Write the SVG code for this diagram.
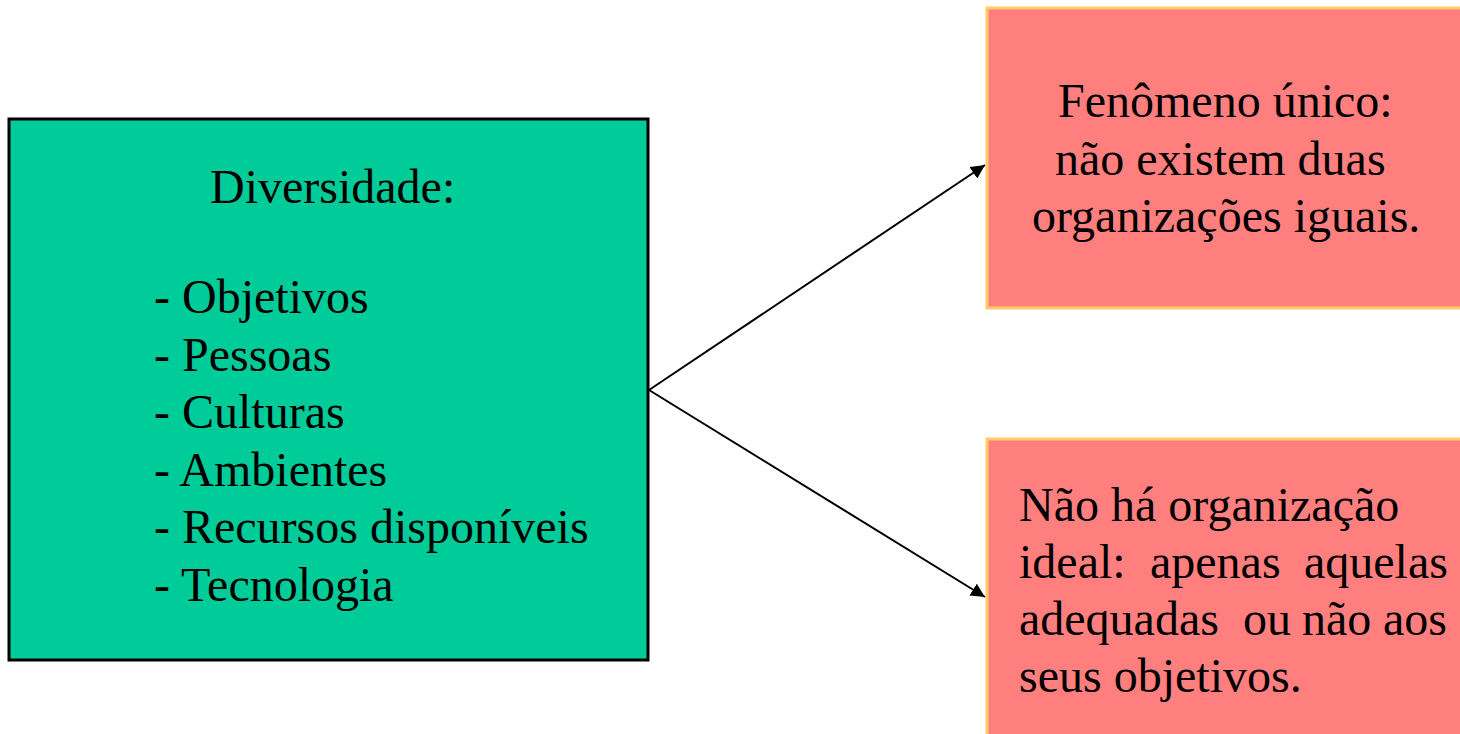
<svg xmlns="http://www.w3.org/2000/svg" width="1460" height="734" viewBox="0 0 1460 734">
  <style>
    .t { font-family: "Liberation Serif", "Times New Roman", serif; font-size: 48px; fill: #000; }
    .green { fill: #00CC99; stroke: #000; stroke-width: 3; }
    .pink { fill: #FF7F7F; stroke: #FFCC66; stroke-width: 3; }
    .conn { stroke: #000; stroke-width: 2; fill: none; marker-end: url(#arrow); }
  </style>
  <defs>
    <marker id="arrow" viewBox="0 0 10 10" refX="10" refY="5" markerWidth="7" markerHeight="7" orient="auto" markerUnits="strokeWidth">
      <path d="M0,0 L10,5 L0,10 Z" fill="#000"/>
    </marker>
  </defs>
  <rect width="1460" height="734" fill="#fff"/>

  <g id="diversidade">
    <rect class="green" x="9" y="119" width="639" height="541"/>
    <text class="t" x="210" y="203">Diversidade:</text>
    <text class="t" x="154" y="313">- Objetivos</text>
    <text class="t" x="154" y="371">- Pessoas</text>
    <text class="t" x="154" y="428">- Culturas</text>
    <text class="t" x="154" y="486">- Ambientes</text>
    <text class="t" x="154" y="543">- Recursos disponíveis</text>
    <text class="t" x="154" y="601">- Tecnologia</text>
  </g>

  <g id="fenomeno-unico">
    <rect class="pink" x="987" y="8" width="480" height="300"/>
    <text class="t" x="1058" y="117">Fenômeno único:</text>
    <text class="t" x="1055" y="175">não existem duas</text>
    <text class="t" x="1032" y="232">organizações iguais.</text>
  </g>

  <g id="organizacao-ideal">
    <rect class="pink" x="987" y="439" width="480" height="310"/>
    <text class="t" x="1019" y="521">Não há organização</text>
    <text class="t" y="578"><tspan x="1019">ideal:</tspan><tspan x="1150">apenas</tspan><tspan x="1304">aquelas</tspan></text>
    <text class="t" y="635"><tspan x="1019">adequadas</tspan><tspan x="1243">ou</tspan><tspan x="1302">não</tspan><tspan x="1383">aos</tspan></text>
    <text class="t" x="1019" y="692">seus objetivos.</text>
  </g>

  <g id="connectors">
    <line class="conn" x1="649" y1="390" x2="985" y2="165"/>
    <line class="conn" x1="649" y1="390" x2="985" y2="597"/>
  </g>
</svg>
